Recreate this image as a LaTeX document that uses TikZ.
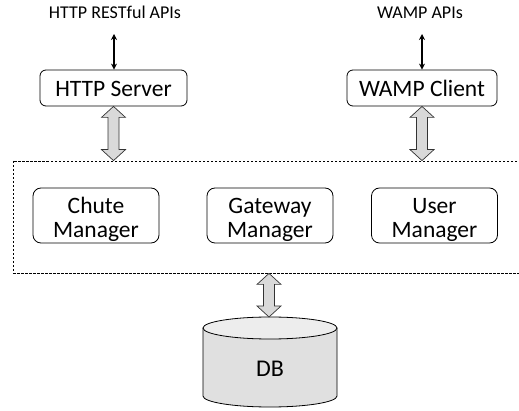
\documentclass[tikz,border=0pt]{standalone}
\usepackage{fontspec}
\setmainfont{Carlito}
\usetikzlibrary{arrows.meta,calc}
\definecolor{arrgray}{HTML}{D9D9D9}
\definecolor{dbbody}{HTML}{E0E0E0}
\definecolor{dbtopc}{HTML}{EDEDED}
\tikzset{
  apilabel/.style={font=\fontsize{18}{20}\selectfont, inner sep=0pt, anchor=base},
  topbox/.style={draw, rounded corners=6pt, line width=0.8pt, minimum width=#1, minimum height=36pt,
    inner sep=0pt, font=\fontsize{23.5}{25}\selectfont, text height=18pt, text depth=-2.5pt},
  mgrbox/.style={draw, rounded corners=8pt, line width=0.8pt, minimum width=126pt, minimum height=55pt,
    inner sep=0pt, align=center, font=\fontsize{23.5}{24}\selectfont},
  thinarr/.style={{Stealth[length=6pt,width=6pt]}-{Stealth[length=6pt,width=6pt]}, line width=1.3pt},
  fatarr/.style={draw=black!80, fill=arrgray, line width=0.7pt, line join=miter},
  region/.style={draw, dashed, dash pattern=on 2.5pt off 1.5pt, line width=0.8pt, minimum width=520pt, minimum height=112pt, inner sep=0pt},
}
\newcommand{\fatarrow}[2]{\draw[fatarr] let \p1=(#1), \p2=(#2) in
  (\x1,\y1) -- (\x1+12,\y1-11) -- (\x1+5.5,\y1-11) -- (\x1+5.5,\y2+11) -- (\x1+12,\y2+11)
  -- (\x1,\y2) -- (\x1-12,\y2+11) -- (\x1-5.5,\y2+11) -- (\x1-5.5,\y1-11) -- (\x1-12,\y1-11) -- cycle;}
\newcommand{\dnstrut}{\rule{0pt}{25pt}}
\begin{document}
\begin{tikzpicture}[x=1pt,y=1pt]
\useasboundingbox (0,0) rectangle (519,-411);
% labels
\node[apilabel] (httpapi) at (115,-18.5) {HTTP RESTful APIs};
\node[apilabel] (wampapi) at (420,-18.5) {WAMP APIs};
\coordinate (httptop) at (114,-34);
\coordinate (wamptop) at (422,-34);
% top boxes
\node[topbox=147pt] (http) at (113.5,-88) {HTTP Server};
\node[topbox=150pt] (wamp) at (422,-88) {WAMP Client};
\draw[thinarr] (httptop) -- (httptop |- http.north);
\draw[thinarr] (wamptop) -- (wamptop |- wamp.north);
% region
\node[region] (core) at (273,-217) {};
\node[mgrbox] (chute) at (96,-215.5) {\dnstrut Chute\\Manager};
\node[mgrbox] (gateway) at (270,-215.5) {\dnstrut Gateway\\Manager};
\node[mgrbox] (user) at (434.5,-215.5) {\dnstrut User\\Manager};
\fatarrow{http.south}{http.south |- core.north}
\fatarrow{wamp.south}{wamp.south |- core.north}
% DB
\coordinate (dbtop) at (269,-317);
\fill[dbbody] (203,-328) -- (203,-396) arc[start angle=180,end angle=360,x radius=67,y radius=11] -- (337,-328) arc[start angle=0,end angle=180,x radius=67,y radius=11] -- cycle;
\draw[line width=0.8pt] (203,-328) -- (203,-396) arc[start angle=180,end angle=360,x radius=67,y radius=11] -- (337,-328);
\draw[line width=0.8pt, fill=dbtopc] (270,-328) ellipse[x radius=67,y radius=11];
\node[font=\fontsize{24}{26}\selectfont, inner sep=0pt] (db) at (270,-369) {DB};
\fatarrow{core.south -| dbtop}{dbtop}
\end{tikzpicture}
\end{document}
